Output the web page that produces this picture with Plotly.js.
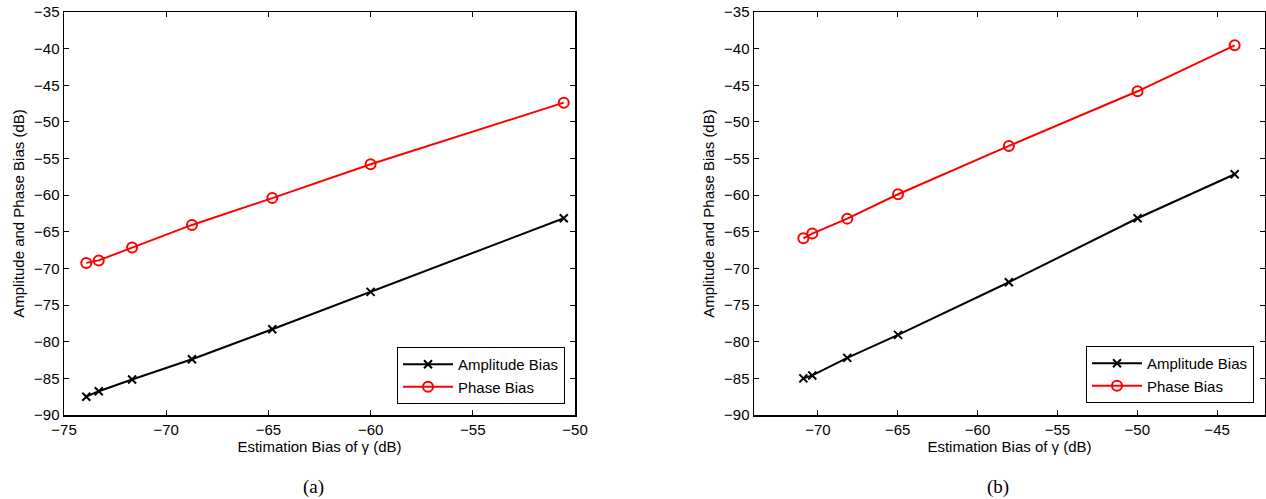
<!DOCTYPE html>
<html>
<head>
<meta charset="utf-8">
<script src="https://cdn.plot.ly/plotly-3.0.1.min.js"></script>
<style>html,body{margin:0;padding:0;background:#fff}#chart{width:1266px;height:499px}</style>
</head>
<body>
<div id="chart"></div>
<script>
// Panel (a)
const xA = [-73.91, -73.30, -71.67, -68.74, -64.81, -60.0, -50.55];
const ampA = [-87.5, -86.75, -85.16, -82.4, -78.3, -73.2, -63.15];
const phaseA = [-69.24, -68.9, -67.15, -64.06, -60.4, -55.78, -47.37];
// Panel (b)
const xB = [-70.91, -70.35, -68.16, -64.98, -58.04, -49.98, -43.9];
const ampB = [-85.0, -84.6, -82.2, -79.07, -71.88, -63.15, -57.14];
const phaseB = [-65.88, -65.24, -63.2, -59.87, -53.28, -45.82, -39.55];

const seriesNames = ['Amplitude Bias', 'Phase Bias'];
const xTitle = 'Estimation Bias of \u03b3 (dB)';
const yTitle = 'Amplitude and Phase Bias (dB)';
const captions = ['(a)', '(b)'];

const W = 1266, H = 499;
const font = {family: 'Liberation Sans, Arial, sans-serif', size: 14, color: '#000'};

function ampTrace(x, y, xa, ya, lg) {
  return {x: x, y: y, xaxis: xa, yaxis: ya, name: seriesNames[0], legend: lg, type: 'scatter',
    mode: 'lines+markers', line: {color: '#000', width: 2},
    marker: {symbol: 'x-thin-open', size: 8, color: '#000', line: {color: '#000', width: 2}}};
}
function phaseTrace(x, y, xa, ya, lg) {
  return {x: x, y: y, xaxis: xa, yaxis: ya, name: seriesNames[1], legend: lg, type: 'scatter',
    mode: 'lines+markers', line: {color: '#ff0000', width: 2},
    marker: {symbol: 'circle-open', size: 10, color: '#ff0000', line: {color: '#ff0000', width: 2}}};
}

const data = [
  ampTrace(xA, ampA, 'x', 'y', 'legend'),
  phaseTrace(xA, phaseA, 'x', 'y', 'legend'),
  ampTrace(xB, ampB, 'x2', 'y2', 'legend2'),
  phaseTrace(xB, phaseB, 'x2', 'y2', 'legend2')
];

function xax(domain, range, tickvals, anchor) {
  return {domain: domain, range: range, anchor: anchor, tickvals: tickvals,
    ticks: 'inside', ticklen: 5, tickwidth: 1, tickcolor: '#000', mirror: 'ticks',
    showline: true, linecolor: '#000', linewidth: 1.5, showgrid: false, zeroline: false,
    tickfont: {family: font.family, size: 15, color: '#000'},
    title: {text: xTitle, font: {family: font.family, size: 15, color: '#000'}, standoff: 5}};
}
function yax(range, anchor) {
  return {domain: [0, 1], range: range, anchor: anchor, dtick: 5, tick0: -90,
    ticks: 'inside', ticklen: 5, tickwidth: 1, tickcolor: '#000', mirror: 'ticks',
    showline: true, linecolor: '#000', linewidth: 1.5, showgrid: false, zeroline: false,
    tickfont: {family: font.family, size: 15, color: '#000'},
    title: {text: yTitle, font: {family: font.family, size: 15, color: '#000'}, standoff: 6}};
}

const legendStyle = {bgcolor: '#fff', bordercolor: '#000', borderwidth: 1,
  font: {family: font.family, size: 15, color: '#000'}, xanchor: 'right', yanchor: 'bottom',
  tracegroupgap: 0, itemwidth: 50};

const layout = {
  width: W, height: H,
  margin: {l: 0, r: 0, t: 12, b: 84},
  paper_bgcolor: '#fff', plot_bgcolor: '#fff',
  font: font,
  showlegend: true,
  xaxis: xax([64 / W, 575 / W], [-75, -50], [-75, -70, -65, -60, -55, -50], 'y'),
  yaxis: yax([-90, -35], 'x'),
  xaxis2: xax([754 / W, 1265 / W], [-74, -42], [-70, -65, -60, -55, -50, -45], 'y2'),
  yaxis2: yax([-90, -35], 'x2'),
  legend: Object.assign({x: 565 / W, y: (415 - 404) / 403}, legendStyle),
  legend2: Object.assign({x: 1254 / W, y: (415 - 403) / 403}, legendStyle),
  annotations: [
    {text: captions[0], xref: 'paper', yref: 'paper', x: 313 / W, y: -(487 - 415) / 403,
      showarrow: false, xanchor: 'center', yanchor: 'middle',
      font: {family: 'Liberation Serif, Times New Roman, serif', size: 19, color: '#000'}},
    {text: captions[1], xref: 'paper', yref: 'paper', x: 998 / W, y: -(487 - 415) / 403,
      showarrow: false, xanchor: 'center', yanchor: 'middle',
      font: {family: 'Liberation Serif, Times New Roman, serif', size: 19, color: '#000'}}
  ]
};

Plotly.newPlot('chart', data, layout, {displayModeBar: false, staticPlot: true});
</script>
</body>
</html>
